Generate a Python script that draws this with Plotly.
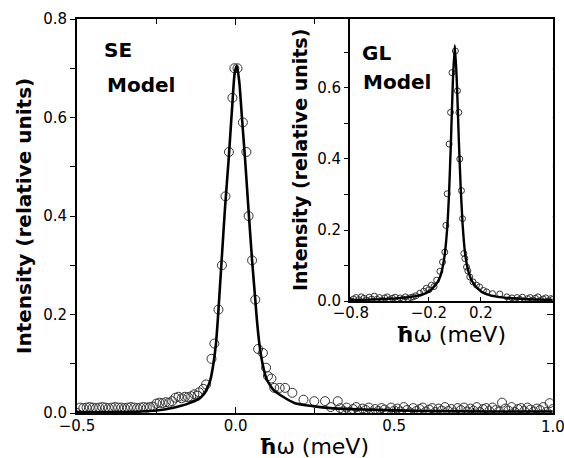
import plotly.graph_objects as go

# ---------------- main panel (SE model) ----------------
se_pts_x = [-0.50, -0.49, -0.48, -0.47, -0.46, -0.45, -0.44, -0.43, -0.42, -0.41, -0.40,
            -0.39, -0.38, -0.37, -0.36, -0.35, -0.34, -0.33, -0.32, -0.31, -0.30, -0.29,
            -0.28, -0.27, -0.26, -0.25, -0.24, -0.23, -0.22, -0.21, -0.20, -0.19, -0.18,
            -0.17, -0.16, -0.15, -0.14, -0.13, -0.12, -0.115, -0.102, -0.093, -0.076,
            -0.067, -0.054, -0.043, -0.032, -0.021, -0.010, -0.004, 0.006, 0.023, 0.034,
            0.041, 0.052, 0.062, 0.071, 0.086, 0.096, 0.102, 0.113, 0.122, 0.139, 0.156,
            0.179, 0.214, 0.248, 0.282, 0.30, 0.322,
            0.33, 0.34, 0.35, 0.36, 0.37, 0.38, 0.39, 0.40, 0.41, 0.42, 0.43, 0.44, 0.45,
            0.46, 0.47, 0.48, 0.49, 0.50, 0.51, 0.52, 0.53, 0.54, 0.55, 0.56, 0.57, 0.58,
            0.59, 0.60, 0.61, 0.62, 0.63, 0.64, 0.65, 0.66, 0.67, 0.68, 0.69, 0.70, 0.71,
            0.72, 0.73, 0.74, 0.75, 0.76, 0.77, 0.78, 0.79, 0.80, 0.81, 0.82, 0.83, 0.84,
            0.85, 0.86, 0.87, 0.88, 0.89, 0.90, 0.91, 0.92, 0.93, 0.94, 0.95, 0.96, 0.97,
            0.98, 0.99, 1.00]
se_pts_y = [0.000, 0.011, 0.010, 0.011, 0.012, 0.011, 0.010, 0.011, 0.012, 0.011, 0.010,
            0.011, 0.012, 0.011, 0.011, 0.010, 0.011, 0.012, 0.011, 0.010, 0.011, 0.012,
            0.011, 0.012, 0.013, 0.019, 0.021, 0.020, 0.022, 0.021, 0.024, 0.031, 0.033,
            0.030, 0.033, 0.032, 0.034, 0.038, 0.035, 0.042, 0.049, 0.058, 0.110,
            0.141, 0.210, 0.300, 0.440, 0.530, 0.640, 0.700, 0.700, 0.590, 0.530,
            0.400, 0.310, 0.230, 0.130, 0.122, 0.092, 0.075, 0.070, 0.051, 0.051, 0.051,
            0.041, 0.027, 0.024, 0.024, 0.012, 0.024,
            0.010, 0.004, 0.011, 0.002, 0.008, 0.012, 0.003, 0.009, 0.006, 0.011, 0.001,
            0.008, 0.004, 0.010, 0.007, 0.002, 0.011, 0.005, 0.009, 0.003, 0.012, 0.006,
            0.001, 0.010, 0.004, 0.008, 0.011, 0.003, 0.007, 0.010, 0.002, 0.009, 0.005,
            0.012, 0.004, 0.008, 0.001, 0.010, 0.006, 0.011, 0.003, 0.009, 0.005, 0.012,
            0.002, 0.008, 0.010, 0.004, 0.011, 0.006, 0.003, 0.021, 0.009, 0.005, 0.012,
            0.002, 0.008, 0.010, 0.004, 0.011, 0.007, 0.003, 0.009, 0.006, 0.012, 0.002,
            0.020, 0.008, 0.004]

se_fit_x = [-0.50, -0.30, -0.25, -0.20, -0.175, -0.15, -0.12, -0.10, -0.09, -0.08, -0.07,
            -0.062, -0.056, -0.045, -0.033, -0.022, -0.011, -0.003, 0.004, 0.012, 0.020,
            0.030, 0.041, 0.052, 0.062, 0.067, 0.075, 0.085, 0.098, 0.119, 0.147, 0.187,
            0.244, 0.30, 0.40, 0.60, 0.80, 1.00]
se_fit_y = [0.002, 0.003, 0.005, 0.010, 0.014, 0.019, 0.027, 0.038, 0.050, 0.066, 0.100,
            0.140, 0.190, 0.300, 0.420, 0.514, 0.620, 0.690, 0.705, 0.670, 0.600,
            0.514, 0.410, 0.310, 0.230, 0.190, 0.140, 0.100, 0.068, 0.047, 0.034, 0.020,
            0.014, 0.010, 0.007, 0.004, 0.003, 0.003]

# ---------------- inset (GL model) ----------------
gl_pts_x = [-0.80, -0.78, -0.76, -0.74, -0.72, -0.70, -0.68, -0.66, -0.64, -0.62, -0.60,
            -0.58, -0.56, -0.54, -0.52, -0.50, -0.48, -0.46, -0.44, -0.42, -0.40, -0.38,
            -0.36, -0.34, -0.32, -0.30, -0.27, -0.24, -0.22, -0.20, -0.18, -0.16, -0.14,
            -0.115, -0.095, -0.077, -0.069, -0.059, -0.044, -0.033, -0.022, 0.004, 0.020,
            0.031, 0.038, 0.051, 0.059, 0.069, 0.077, 0.090, 0.100, 0.115, 0.140, 0.167,
            0.190, 0.220, 0.245, 0.290, 0.346, 0.40, 0.42, 0.44, 0.46, 0.48, 0.50, 0.52,
            0.54, 0.56, 0.58, 0.60, 0.62, 0.64, 0.66, 0.68, 0.70, 0.72, 0.74, 0.75]
gl_pts_y = [0.000, 0.006, 0.010, 0.004, 0.012, 0.008, 0.003, 0.011, 0.006, 0.014, 0.005,
            0.010, 0.002, 0.009, 0.012, 0.004, 0.008, 0.011, 0.003, 0.009, 0.006, 0.012,
            0.007, 0.010, 0.012, 0.015, 0.022, 0.028, 0.036, 0.032, 0.045, 0.041, 0.059,
            0.084, 0.110, 0.138, 0.213, 0.302, 0.442, 0.531, 0.643, 0.704, 0.592,
            0.531, 0.400, 0.311, 0.232, 0.134, 0.120, 0.096, 0.085, 0.068, 0.054, 0.045,
            0.040, 0.030, 0.026, 0.021, 0.020, 0.012, 0.004, 0.009, 0.002, 0.010, 0.005,
            0.011, 0.001, 0.007, 0.010, 0.003, 0.008, 0.012, 0.002, 0.006, 0.009, 0.001,
            0.007, 0.004]

gl_fit_x = [-0.808, -0.60, -0.40, -0.30, -0.25, -0.20, -0.15, -0.12, -0.10, -0.08, -0.06,
            -0.045, -0.030, -0.015, 0.000, 0.015, 0.030, 0.045, 0.060, 0.080, 0.100, 0.120,
            0.150, 0.200, 0.250, 0.300, 0.400, 0.600, 0.754]
gl_fit_y = [0.003, 0.005, 0.009, 0.014, 0.018, 0.027, 0.045, 0.062, 0.085, 0.125, 0.200,
            0.300, 0.450, 0.620, 0.720, 0.620, 0.460, 0.320, 0.215, 0.130, 0.090, 0.066,
            0.046, 0.028, 0.019, 0.014, 0.009, 0.005, 0.003]

main_x_ticks = [-0.5, 0.0, 0.5, 1.0]
main_x_text = ["\u22120.5", "0.0", "0.5", "1.0"]
main_y_ticks = [0.0, 0.2, 0.4, 0.6, 0.8]
main_y_text = ["0.0", "0.2", "0.4", "0.6", "0.8"]
inset_x_ticks = [-0.8, -0.2, 0.2]
inset_x_text = ["\u22120.8", "\u22120.2", "0.2"]
inset_y_ticks = [0.0, 0.2, 0.4, 0.6]
inset_y_text = ["0.0", "0.2", "0.4", "0.6"]

FONT = "DejaVu Sans"
BLACK = "#000000"

fig = go.Figure()

# main
fig.add_trace(go.Scatter(x=se_pts_x, y=se_pts_y, mode="markers",
                         marker=dict(symbol="circle-open", size=9, color="#333333",
                                     line=dict(width=1, color="#333333")),
                         xaxis="x", yaxis="y", showlegend=False, hoverinfo="skip"))
fig.add_trace(go.Scatter(x=se_fit_x, y=se_fit_y, mode="lines",
                         line=dict(color=BLACK, width=2.6, shape="spline", smoothing=0.5),
                         xaxis="x", yaxis="y", showlegend=False, hoverinfo="skip"))
# helper trace for the right-hand tick axis
fig.add_trace(go.Scatter(x=se_fit_x, y=se_fit_y, mode="lines", line=dict(width=0),
                         opacity=0, xaxis="x", yaxis="y3", showlegend=False,
                         hoverinfo="skip"))

# inset
fig.add_trace(go.Scatter(x=gl_pts_x, y=gl_pts_y, mode="markers",
                         marker=dict(symbol="circle-open", size=6, color="#333333",
                                     line=dict(width=1, color="#333333")),
                         xaxis="x2", yaxis="y2", showlegend=False, hoverinfo="skip"))
fig.add_trace(go.Scatter(x=gl_fit_x, y=gl_fit_y, mode="lines",
                         line=dict(color=BLACK, width=2.4, shape="spline", smoothing=0.5),
                         xaxis="x2", yaxis="y2", showlegend=False, hoverinfo="skip"))

tickfont = dict(family=FONT, size=15, color=BLACK)
inset_x0 = 0.5735
inset_y0 = 0.284

fig.update_layout(
    width=564, height=458, autosize=False, showlegend=False,
    margin=dict(l=77, r=0, t=19, b=45, pad=0),
    paper_bgcolor="white", plot_bgcolor="white",
    font=dict(family=FONT, color=BLACK),
    xaxis=dict(domain=[0, 0.977], range=[-0.5, 1.0], tickvals=main_x_ticks,
               ticktext=main_x_text, ticks="inside", ticklen=6, tickwidth=1.2,
               tickcolor=BLACK, showline=True, linecolor=BLACK, linewidth=1.8,
               mirror="ticks", showgrid=False, zeroline=False, tickfont=tickfont,
               ticklabelstandoff=-2, automargin=False,
               minor=dict(dtick=0.25, ticks="inside", ticklen=5, tickcolor=BLACK)),
    yaxis=dict(domain=[0, 1], range=[0, 0.8], tickvals=main_y_ticks,
               ticktext=main_y_text, ticks="outside", ticklen=5, tickwidth=1.2,
               tickcolor=BLACK, showline=True, linecolor=BLACK, linewidth=1.8,
               mirror=True, showgrid=False, zeroline=False, tickfont=tickfont,
               automargin=False,
               minor=dict(dtick=0.1, ticks="outside", ticklen=5, tickcolor=BLACK)),
    yaxis3=dict(overlaying="y", side="right", range=[0, 0.8], dtick=0.1,
                ticks="inside", ticklen=6, tickwidth=1.2, tickcolor=BLACK,
                showticklabels=False, showline=False, showgrid=False, zeroline=False,
                automargin=False),
    xaxis2=dict(domain=[inset_x0 * 0.977, 0.977], anchor="y2", range=[-0.808, 0.754],
                tickvals=inset_x_ticks, ticktext=inset_x_text, ticks="inside",
                ticklen=4, tickcolor=BLACK, showline=True, linecolor=BLACK,
                linewidth=1.6, mirror=True, showgrid=False, zeroline=False,
                tickfont=tickfont, ticklabelstandoff=-3, automargin=False),
    yaxis2=dict(domain=[inset_y0, 1.0], anchor="x2", range=[0, 0.794],
                tickvals=inset_y_ticks, ticktext=inset_y_text, ticks="outside",
                ticklen=4, tickcolor=BLACK, showline=True, linecolor=BLACK,
                linewidth=1.6, mirror=True, showgrid=False, zeroline=False,
                tickfont=tickfont, automargin=False,
                minor=dict(dtick=0.1, ticks="outside", ticklen=4, tickcolor=BLACK)),
)

# paper coordinates: plot area spans 487 px wide (l=77, r=0), 394 px tall
W = 487.0
annots = [
    dict(text="<b>Intensity (relative units)</b>", x=(24 - 77) / W, y=0.5,
         textangle=-90, font=dict(size=20)),
    dict(text="<b>\u0127</b>\u03c9 (meV)", x=(314 - 77) / W, y=-0.086, font=dict(size=22)),
    dict(text="<b>Intensity (relative units)</b>", x=(300 - 77) / W, y=0.642,
         textangle=-90, font=dict(size=19)),
    dict(text="<b>\u0127</b>\u03c9 (meV)", x=(451 - 77) / W, y=0.198, font=dict(size=22)),
    dict(text="<b>SE</b>", x=(102 - 77) / W, y=0.921, xanchor="left", font=dict(size=20)),
    dict(text="<b>Model</b>", x=(105 - 77) / W, y=0.832, xanchor="left", font=dict(size=20)),
    dict(text="<b>GL</b>", x=(360 - 77) / W, y=0.914, xanchor="left", font=dict(size=20)),
    dict(text="<b>Model</b>", x=(361 - 77) / W, y=0.840, xanchor="left", font=dict(size=20)),
]
for a in annots:
    a.setdefault("xanchor", "center")
    fig.add_annotation(xref="paper", yref="paper", showarrow=False,
                       yanchor="middle", **a)

# last main tick label (dropped by plotly because it touches the page edge)
fig.add_annotation(xref="x", yref="paper", x=main_x_ticks[-1], y=0, yshift=-3,
                   text=main_x_text[-1], showarrow=False, xanchor="center",
                   yanchor="top", font=dict(size=15))

for a in fig.layout.annotations:
    a.font.family = FONT
    a.font.color = BLACK

fig.write_html("out.html",
               config={"displayModeBar": False, "responsive": False},
               post_script="document.body.style.margin='0px';"
                           "document.body.style.padding='0px';"
                           "document.body.style.overflow='hidden';")
